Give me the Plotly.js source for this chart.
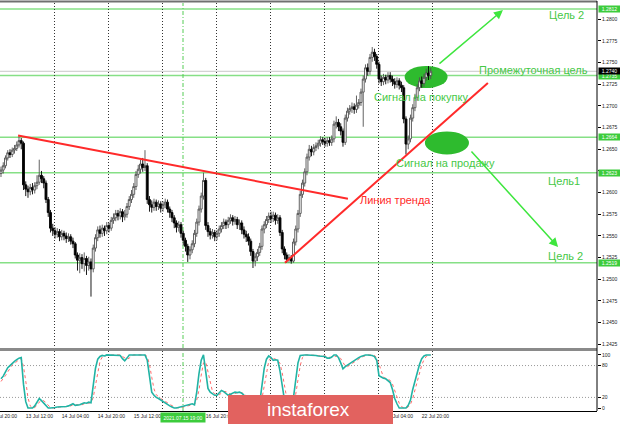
<!DOCTYPE html>
<html><head><meta charset="utf-8">
<script src="https://cdn.plot.ly/plotly-3.0.1.min.js"></script>
<style>html,body{margin:0;padding:0;background:#fff;}#chart{width:620px;height:424px;}</style>
</head><body><div id="chart"></div>
<script>
// ---- DATA (H1 GBP/USD, bar 0 = 13 Jul 00:00) ----
const firstOpen = 1.2622;
const closes = [
1.2626,1.2631,1.2640,1.2646,1.2644,1.2649,1.2651,1.2655,1.2660,1.2657,1.2609,1.2604,
1.2601,1.2606,1.2603,1.2608,1.2612,1.2620,1.2616,1.2611,1.2592,1.2577,1.2559,1.2556,
1.2552,1.2555,1.2549,1.2553,1.2550,1.2547,1.2549,1.2544,1.2541,1.2528,1.2522,1.2525,
1.2518,1.2524,1.2516,1.2520,1.2512,1.2536,1.2548,1.2557,1.2553,1.2559,1.2556,1.2562,
1.2559,1.2568,1.2571,1.2576,1.2573,1.2578,1.2572,1.2575,1.2584,1.2592,1.2598,1.2607,
1.2621,1.2627,1.2633,1.2629,1.2631,1.2592,1.2586,1.2583,1.2589,1.2584,1.2587,1.2582,
1.2586,1.2589,1.2581,1.2577,1.2571,1.2565,1.2560,1.2563,1.2553,1.2545,1.2538,1.2528,
1.2534,1.2541,1.2553,1.2566,1.2581,1.2596,1.2614,1.2562,1.2555,1.2551,1.2554,1.2549,
1.2553,1.2558,1.2562,1.2566,1.2563,1.2568,1.2571,1.2567,1.2569,1.2563,1.2565,1.2557,
1.2552,1.2549,1.2544,1.2532,1.2521,1.2526,1.2531,1.2538,1.2558,1.2563,1.2569,1.2573,
1.2570,1.2574,1.2568,1.2571,1.2554,1.2535,1.2528,1.2523,1.2525,1.2521,1.2543,1.2558,
1.2576,1.2598,1.2611,1.2624,1.2641,1.2650,1.2647,1.2652,1.2654,1.2657,1.2661,1.2659,
1.2657,1.2660,1.2658,1.2662,1.2679,1.2681,1.2676,1.2671,1.2658,1.2686,1.2694,1.2697,
1.2699,1.2696,1.2701,1.2704,1.2716,1.2731,1.2744,1.2740,1.2756,1.2762,1.2757,1.2748,
1.2731,1.2728,1.2733,1.2730,1.2735,1.2731,1.2728,1.2725,1.2729,1.2724,1.2721,1.2685,
1.2656,1.2662,1.2686,1.2698,1.2710,1.2721,1.2729,1.2726,1.2733,1.2738,1.2735,1.2740];
const highs = [
1.2630,1.2635,1.2643,1.2649,1.2650,1.2652,1.2655,1.2659,1.2665,1.2663,1.2659,1.2613,
1.2608,1.2610,1.2611,1.2612,1.2620,1.2638,1.2625,1.2619,1.2614,1.2595,1.2580,1.2564,
1.2560,1.2559,1.2558,1.2557,1.2556,1.2554,1.2553,1.2552,1.2548,1.2543,1.2531,1.2530,
1.2529,1.2531,1.2527,1.2526,1.2524,1.2540,1.2552,1.2561,1.2562,1.2563,1.2562,1.2566,
1.2565,1.2572,1.2576,1.2580,1.2580,1.2582,1.2581,1.2580,1.2588,1.2596,1.2603,1.2611,
1.2625,1.2632,1.2638,1.2640,1.2649,1.2634,1.2596,1.2591,1.2593,1.2592,1.2591,1.2590,
1.2590,1.2593,1.2592,1.2584,1.2580,1.2574,1.2568,1.2567,1.2566,1.2556,1.2548,1.2541,
1.2538,1.2545,1.2557,1.2570,1.2585,1.2600,1.2623,1.2617,1.2566,1.2559,1.2558,1.2557,
1.2557,1.2562,1.2566,1.2570,1.2569,1.2572,1.2575,1.2574,1.2573,1.2572,1.2569,1.2568,
1.2561,1.2556,1.2553,1.2547,1.2535,1.2530,1.2535,1.2542,1.2562,1.2567,1.2573,1.2577,
1.2578,1.2578,1.2577,1.2575,1.2574,1.2557,1.2538,1.2531,1.2529,1.2528,1.2547,1.2562,
1.2580,1.2602,1.2615,1.2628,1.2645,1.2655,1.2654,1.2656,1.2658,1.2661,1.2665,1.2664,
1.2663,1.2664,1.2664,1.2666,1.2683,1.2688,1.2685,1.2680,1.2674,1.2690,1.2698,1.2701,
1.2704,1.2703,1.2712,1.2708,1.2720,1.2735,1.2748,1.2749,1.2760,1.2768,1.2766,1.2760,
1.2751,1.2735,1.2737,1.2736,1.2739,1.2739,1.2735,1.2732,1.2733,1.2732,1.2728,1.2724,
1.2688,1.2666,1.2690,1.2702,1.2714,1.2725,1.2733,1.2734,1.2737,1.2743,1.2746,1.2744];
const lows = [
1.2618,1.2622,1.2628,1.2637,1.2640,1.2641,1.2645,1.2648,1.2652,1.2650,1.2603,1.2596,
1.2594,1.2597,1.2598,1.2599,1.2604,1.2609,1.2611,1.2605,1.2588,1.2572,1.2554,1.2550,
1.2547,1.2548,1.2544,1.2545,1.2545,1.2542,1.2543,1.2540,1.2536,1.2524,1.2510,1.2507,
1.2512,1.2509,1.2505,1.2510,1.2480,1.2508,1.2532,1.2544,1.2548,1.2549,1.2550,1.2552,
1.2554,1.2556,1.2564,1.2567,1.2568,1.2569,1.2566,1.2568,1.2571,1.2580,1.2588,1.2594,
1.2603,1.2617,1.2622,1.2624,1.2625,1.2587,1.2578,1.2577,1.2579,1.2579,1.2580,1.2577,
1.2578,1.2582,1.2577,1.2571,1.2566,1.2559,1.2554,1.2555,1.2548,1.2539,1.2532,1.2520,
1.2523,1.2530,1.2537,1.2549,1.2562,1.2577,1.2592,1.2557,1.2549,1.2546,1.2547,1.2544,
1.2545,1.2549,1.2554,1.2558,1.2558,1.2559,1.2564,1.2562,1.2563,1.2558,1.2557,1.2552,
1.2547,1.2543,1.2539,1.2527,1.2513,1.2515,1.2521,1.2527,1.2534,1.2553,1.2559,1.2565,
1.2565,1.2566,1.2563,1.2564,1.2550,1.2530,1.2523,1.2519,1.2519,1.2518,1.2519,1.2539,
1.2554,1.2572,1.2594,1.2607,1.2620,1.2637,1.2642,1.2643,1.2648,1.2650,1.2653,1.2655,
1.2653,1.2653,1.2654,1.2654,1.2658,1.2674,1.2671,1.2666,1.2653,1.2655,1.2682,1.2690,
1.2692,1.2691,1.2692,1.2697,1.2700,1.2676,1.2727,1.2735,1.2736,1.2751,1.2752,1.2743,
1.2726,1.2723,1.2724,1.2725,1.2726,1.2727,1.2723,1.2720,1.2721,1.2719,1.2716,1.2680,
1.2644,1.2650,1.2658,1.2682,1.2694,1.2706,1.2717,1.2721,1.2722,1.2729,1.2730,1.2731];
const stochK = [
55,60,68,76,80,85,88,91,94,95,45,12,
0,0,0,4,10,18,14,9,3,0,0,0,
1,2,2,3,2,3,4,6,8,5,5,6,
8,10,9,11,10,40,75,92,97,99,98,100,
100,100,100,100,100,99,93,89,94,100,100,100,
100,100,100,100,100,90,55,30,24,20,18,15,
13,10,7,4,2,0,0,1,2,3,4,5,
7,8,6,30,65,90,100,70,37,30,27,24,
24,28,33,31,28,24,26,28,30,29,30,28,
24,18,12,6,2,0,4,10,40,75,92,98,
95,90,91,90,70,37,15,5,3,2,20,55,
85,99,100,100,100,100,100,100,99,98,98,98,
97,94,94,96,100,100,95,85,74,78,81,83,
86,89,92,95,97,99,100,100,100,99,97,90,
61,58,56,55,52,48,35,18,8,0,0,0,
0,5,15,35,52,67,82,93,98,100,100,100];
const stochD = [
50,55,61,68,75,81,84,88,91,93,78,51,
19,4,0,1,5,11,14,14,9,4,1,0,
0,1,2,2,2,3,3,4,6,6,6,5,
6,8,9,10,10,20,42,69,88,96,98,99,
99,100,100,100,100,100,97,94,92,94,98,100,
100,100,100,100,100,97,82,58,36,25,21,18,
15,13,10,7,4,2,1,0,1,2,3,4,
5,7,7,15,34,62,85,87,69,46,31,27,
25,25,28,31,31,28,26,26,28,29,30,29,
27,23,18,12,7,3,2,5,18,42,69,88,
95,94,92,90,84,66,41,19,8,3,8,26,
53,80,95,100,100,100,100,100,100,99,98,98,
98,96,95,95,97,98,98,93,85,79,78,81,
83,86,89,92,95,97,99,100,100,100,99,95,
83,70,58,56,54,52,45,34,20,9,3,0,
0,2,7,18,34,51,67,81,91,97,99,100];

const levelPrices = [1.2812, 1.2735, 1.2664, 1.2623, 1.2519];
const levelTexts  = ['1.2812','1.2735','1.2664','1.2623','1.2519'];
const bidPrice = 1.2740;
const priceTicks = [1.2425,1.2450,1.2475,1.2500,1.2525,1.2550,1.2575,1.2600,1.2625,1.2650,1.2675,1.2700,1.2725,1.2750,1.2775,1.2800];
// 1.2625 is hidden behind the 1.2623 level box in the original
const priceTickText = ['1.2425','1.2450','1.2475','1.2500','1.2525','1.2550','1.2575','1.2600','','1.2650','1.2675','1.2700','1.2725','1.2750','1.2775','1.2800'];
const stochTicks = [0,20,80,100];
const stochLevels = [20,80];
const dayLines = [0,24,48,72,96,120,144,168,192];
// visible time labels (the others are hidden under the crosshair box and the logo)
const timeLabelBars = [-4,12,28,44,60,92,172,188];
const timeLabelText = ['12 Jul 20:00','13 Jul 12:00','14 Jul 04:00','14 Jul 20:00','15 Jul 12:00','16 Jul 20:00','22 Jul 04:00','22 Jul 20:00'];
const crossBar = 80.9;
const crossText = '2021.07.15 19:00';
// trend lines: [bar0, price0, bar1, price1]
const downTrend = [7.6, 1.2666, 154.2, 1.2593];
const upTrend = [126.2, 1.2519, 216.4, 1.27265];
// target arrows: [tailBar, tailPrice, headBar, headPrice]
const buyArrow = [194.2, 1.27473, 223.1, 1.28107];
const sellArrow = [208.5, 1.26491, 247.6, 1.25372];
// signal ellipses: [bar0, bar1, price0, price1]
const buyZone = [179.4, 198.5, 1.27207, 1.27461];
const sellZone = [188.4, 208.0, 1.26440, 1.26706];

// ---- LAYOUT HELPERS ----
const W = 620, H = 424;
const px = x => x / W;
const py = y => 1 - y / H;
const xr = [-0.44, 264.9];
const plotRight = px(597);
const bars = closes.map((c, i) => i);
const opens = closes.map((c, i) => i === 0 ? firstOpen : closes[i - 1]);
const GREEN = '#3ccc3c', LINEGREEN = '#86e086', TXTGREEN = '#46c846';
const SMALL = 'Liberation Sans, Arial, sans-serif';

const traces = [
  {type:'candlestick', x:bars, open:opens, high:highs, low:lows, close:closes,
   xaxis:'x', yaxis:'y', hoverinfo:'skip', whiskerwidth:0,
   increasing:{line:{color:'#505050', width:0.9}, fillcolor:'#ffffff'},
   decreasing:{line:{color:'#000000', width:0.9}, fillcolor:'#000000'}},
  {type:'scatter', mode:'lines', x:bars, y:stochD, xaxis:'x2', yaxis:'y2', hoverinfo:'skip',
   line:{color:'#ff6a6a', width:1, dash:'dot'}},
  {type:'scatter', mode:'lines', x:bars, y:stochK, xaxis:'x3', yaxis:'y2', hoverinfo:'skip',
   line:{color:'#21b3a4', width:1.6}}
];

const shapes = [];
levelPrices.forEach(p => shapes.push({type:'line', xref:'paper', yref:'y', x0:0, x1:plotRight, y0:p, y1:p, layer:'between', line:{color:LINEGREEN, width:1.5}}));
shapes.push({type:'line', xref:'paper', yref:'y', x0:0, x1:plotRight, y0:bidPrice, y1:bidPrice, layer:'between', line:{color:'#c8c8c8', width:1}});
stochLevels.forEach(v => shapes.push({type:'line', xref:'paper', yref:'y2', x0:0, x1:plotRight, y0:v, y1:v, layer:'between', line:{color:'#9a9a9a', width:1, dash:'1px,2px'}}));
shapes.push({type:'circle', xref:'x', yref:'y', x0:buyZone[0], x1:buyZone[1], y0:buyZone[2], y1:buyZone[3], layer:'between', fillcolor:'#2ebb2e', line:{width:0}});
shapes.push({type:'circle', xref:'x', yref:'y', x0:sellZone[0], x1:sellZone[1], y0:sellZone[2], y1:sellZone[3], layer:'between', fillcolor:'#2ebb2e', line:{width:0}});
[downTrend, upTrend].forEach(t => shapes.push({type:'line', xref:'x', yref:'y', x0:t[0], y0:t[1], x1:t[2], y1:t[3], line:{color:'#ff2a2a', width:2}}));
shapes.push({type:'line', xref:'x', yref:'paper', x0:crossBar, x1:crossBar, y0:py(411), y1:py(3), layer:'between', line:{color:'#55cc55', width:1, dash:'4px,2px,1px,2px'}});
shapes.push({type:'line', xref:'paper', yref:'paper', x0:0, x1:plotRight, y0:py(1.5), y1:py(1.5), line:{color:'#707070', width:2}});
shapes.push({type:'rect', xref:'paper', yref:'paper', x0:0, x1:plotRight, y0:py(351), y1:py(348), fillcolor:'#8a8a8a', line:{width:0}});
shapes.push({type:'line', xref:'paper', yref:'paper', x0:plotRight, x1:plotRight, y0:py(411), y1:py(1), line:{color:'#000', width:1}});
shapes.push({type:'rect', xref:'paper', yref:'paper', x0:px(228), x1:px(393), y0:0, y1:py(395), layer:'above', fillcolor:'#e2625f', line:{width:0}});

const annotations = [];
const txt = (t, x, y, color) => annotations.push({text:t, xref:'paper', yref:'paper', x:px(x), y:py(y), xanchor:'center', yanchor:'middle', showarrow:false, font:{family:'Liberation Sans, Arial, sans-serif', size:11, color:color}});
txt('Цель 2', 566, 15, TXTGREEN);
txt('Промежуточная цель', 533, 70, TXTGREEN);
txt('Сигнал на покупку', 421, 97, TXTGREEN);
txt('Сигнал на продажу', 445, 163, TXTGREEN);
txt('Цель1', 564, 181, TXTGREEN);
txt('Цель 2', 565, 256, TXTGREEN);
txt('Линия тренда', 395, 200, '#ff2a2a');
[buyArrow, sellArrow].forEach(a => annotations.push({text:'', xref:'x', yref:'y', axref:'x', ayref:'y', x:a[2], y:a[3], ax:a[0], ay:a[1], showarrow:true, arrowhead:2, arrowsize:1.2, arrowwidth:1.5, arrowcolor:'#3ee63e', standoff:0}));
levelPrices.forEach((p, i) => annotations.push({text:levelTexts[i], xref:'paper', yref:'y', x:px(598), y:p, xanchor:'left', yanchor:'middle', showarrow:false, bgcolor:GREEN, borderpad:0, width:21, height:5.5, font:{family:SMALL, size:5, color:'#ffffff'}}));
annotations.push({text:bidPrice.toFixed(4), xref:'paper', yref:'y', x:px(598), y:bidPrice, xanchor:'left', yanchor:'middle', showarrow:false, bgcolor:'#000', borderpad:0, width:21, height:5.5, font:{family:SMALL, size:5, color:'#ffffff'}});
annotations.push({text:crossText, xref:'x', yref:'paper', x:crossBar, y:py(417), xanchor:'center', yanchor:'middle', showarrow:false, bgcolor:GREEN, borderpad:1, width:42, height:7, font:{family:SMALL, size:5, color:'#ffffff'}});
annotations.push({text:'instaforex', xref:'paper', yref:'paper', x:px(308), y:py(409), xanchor:'center', yanchor:'middle', showarrow:false, font:{family:'Liberation Sans, sans-serif', size:19, color:'#ffffff'}});

const tickFont = {family:SMALL, size:5, color:'#222'};
const gridDots = '1px,2px';
const layout = {
  width:W, height:H, margin:{l:0, r:0, t:0, b:0}, paper_bgcolor:'#ffffff', plot_bgcolor:'#ffffff',
  showlegend:false, dragmode:false, hovermode:false, shapes:shapes, annotations:annotations,
  boxgap:0.15, boxgroupgap:0,
  xaxis:{domain:[0, plotRight], range:xr, anchor:'y', tickmode:'array', tickvals:dayLines, showticklabels:false, ticks:'',
    showgrid:true, gridcolor:'#333', griddash:gridDots, gridwidth:1, zeroline:false, showline:false, rangeslider:{visible:false}},
  yaxis:{domain:[py(348), py(3)], range:[1.24207, 1.28188], anchor:'x', side:'right', tickmode:'array', tickvals:priceTicks,
    ticktext:priceTickText, ticks:'outside', ticklen:3, tickcolor:'#000', showgrid:false, zeroline:false,
    showline:false, tickfont:tickFont},
  xaxis2:{domain:[0, plotRight], range:xr, anchor:'y2', tickmode:'array', tickvals:dayLines, showticklabels:false, ticks:'',
    showgrid:true, gridcolor:'#333', griddash:gridDots, gridwidth:1, zeroline:false, showline:false},
  yaxis2:{domain:[py(411), py(351)], range:[-5.6, 107.4], anchor:'x2', side:'right', tickmode:'array', tickvals:stochTicks,
    ticks:'outside', ticklen:3, tickcolor:'#000', showgrid:false, zeroline:false, showline:false, tickfont:tickFont},
  xaxis3:{overlaying:'x2', anchor:'y2', side:'bottom', range:xr, tickmode:'array', tickvals:timeLabelBars.map(b => b + 5.1),
    ticktext:timeLabelText, ticks:'', showgrid:false, zeroline:false, showline:true, linecolor:'#000', linewidth:1,
    ticklabeloverflow:'allow', tickfont:tickFont}
};

Plotly.newPlot('chart', traces, layout, {staticPlot:true, displayModeBar:false});
</script></body></html>
